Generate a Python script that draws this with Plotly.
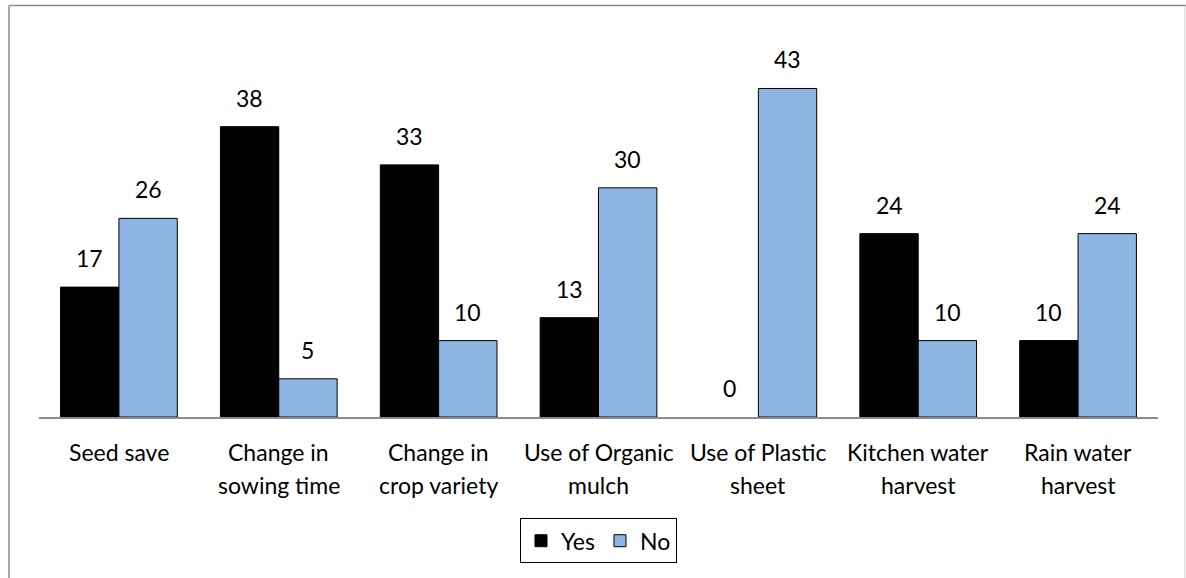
import plotly.graph_objects as go

categories = ["Seed save", "Change in<br>sowing time", "Change in<br>crop variety",
              "Use of Organic<br>mulch", "Use of Plastic<br>sheet", "Kitchen water<br>harvest",
              "Rain water<br>harvest"]
yes_values = [17, 38, 33, 13, 0, 24, 10]
no_values = [26, 5, 10, 30, 43, 10, 24]

FONT = "Lato"
SIZE = 23
x = list(range(len(categories)))
half = 0.1825

def outline(values):
    # no outline on empty bars so a zero value draws nothing
    return [1 if v > 0 else 0 for v in values]

fig = go.Figure()
fig.add_trace(go.Bar(x=x, y=yes_values, name="Yes",
                     marker=dict(color="#000000", line=dict(color="#000000", width=outline(yes_values)))))
fig.add_trace(go.Bar(x=x, y=no_values, name="No",
                     marker=dict(color="#8EB4E3", line=dict(color="#000000", width=outline(no_values)))))

annotations = []
for i, (yv, nv) in enumerate(zip(yes_values, no_values)):
    for dx, v in ((-half, yv), (half, nv)):
        annotations.append(dict(x=i + dx, y=v, text=str(v), showarrow=False, yanchor="bottom",
                                yshift=13, font=dict(family=FONT, size=SIZE, color="#000000")))
    # category label, one annotation per line
    for k, line in enumerate(categories[i].split("<br>")):
        annotations.append(dict(x=i, y=0, text=line, showarrow=False, yanchor="middle",
                                yshift=-35 - 33 * k, font=dict(family=FONT, size=SIZE, color="#000000")))

border = "#8c8c8c"
shapes = [
    dict(type="line", xref="paper", yref="paper", x0=-0.0268, x1=-0.0268, y0=1.077, y1=-0.45, line=dict(color=border, width=1.5)),
    dict(type="line", xref="paper", yref="paper", x0=-0.0268, x1=1.03, y0=1.077, y1=1.077, line=dict(color=border, width=1.5)),
    dict(type="line", xref="paper", yref="paper", x0=1.024, x1=1.024, y0=1.077, y1=-0.45, line=dict(color="#d0d0d0", width=1)),
]

fig.update_layout(
    width=1186, height=578,
    margin=dict(l=39, r=28, t=34.5, b=161),
    paper_bgcolor="white", plot_bgcolor="white",
    barmode="group", bargap=0.27, bargroupgap=0,
    xaxis=dict(range=[-0.5, 6.5], showticklabels=False, showgrid=False, zeroline=False,
               showline=True, linecolor="#8c8c8c", linewidth=2, ticks=""),
    yaxis=dict(range=[0, 50], visible=False),
    showlegend=True,
    legend=dict(orientation="h", x=0.5, xanchor="center", y=-0.324, yanchor="middle",
                bordercolor="#000000", borderwidth=1, font=dict(family=FONT, size=SIZE, color="#000000"),
                itemwidth=30, traceorder="normal"),
    annotations=annotations, shapes=shapes,
    font=dict(family=FONT),
)

fig.write_html("out.html")
